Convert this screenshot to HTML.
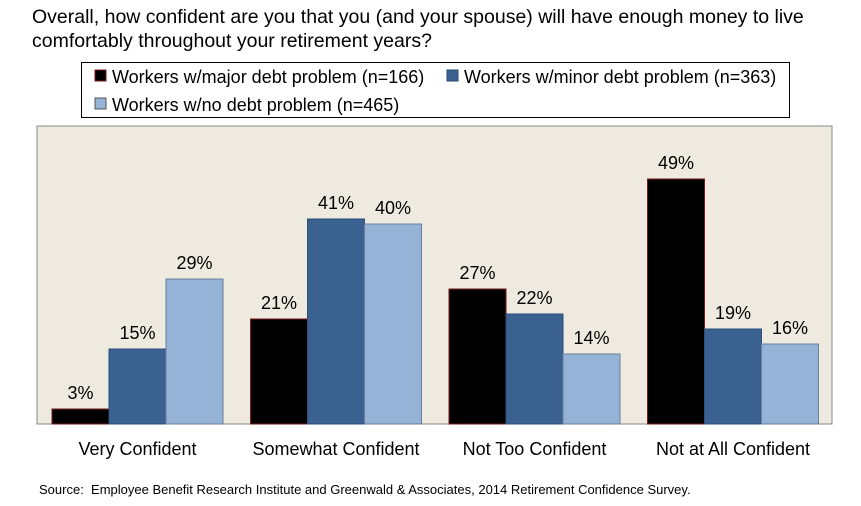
<!DOCTYPE html>
<html><head><meta charset="utf-8"><style>
body{margin:0;background:#fff;font-family:"Liberation Sans",sans-serif;}
#wrap{position:relative;width:861px;height:506px;overflow:hidden;}
.t{position:absolute;color:#000;white-space:nowrap;}
</style></head><body>
<div id="wrap">
<div class="t" style="left:32px;top:5px;font-size:19.5px;line-height:24px;">Overall, how confident are you that you (and your spouse) will have enough money to live<br>comfortably throughout your retirement years?</div>
<svg id="svg" width="861" height="506" style="position:absolute;left:0;top:0">
<g>
<rect x="81.5" y="62.5" width="708" height="55" fill="#fff" stroke="#000"/>
<rect x="95" y="70" width="11" height="11" fill="#000" stroke="#7a1a1a"/>
<text x="112" y="83" font-size="18">Workers w/major debt problem (n=166)</text>
<rect x="447" y="70" width="11" height="11" fill="#3a6190" stroke="#2a4870"/>
<text x="464" y="83" font-size="18">Workers w/minor debt problem (n=363)</text>
<rect x="95" y="98" width="11" height="11" fill="#95b3d7" stroke="#555"/>
<text x="112" y="111" font-size="18">Workers w/no debt problem (n=465)</text>
</g>
<rect x="37" y="126" width="795" height="298" fill="#eeeae0" stroke="#888"/>
<g id="bars"></g>
</svg>
<div class="t" style="left:39px;top:482px;font-size:13px;">Source:&nbsp; Employee Benefit Research Institute and Greenwald &amp; Associates, 2014 Retirement Confidence Survey.</div>
</div>
<script>
const categories=["Very Confident","Somewhat Confident","Not Too Confident","Not at All Confident"];
const majorDebt=[3,21,27,49];
const minorDebt=[15,41,22,19];
const noDebt=[29,40,14,16];
const series=[majorDebt,minorDebt,noDebt];
const seriesNames=["major","minor","none"];
const fills=["#000000","#3a6190","#95b3d7"];
const strokes=["#7a1a1a","#2f507a","#6b7f99"];
const ns="http://www.w3.org/2000/svg";
const g=document.getElementById('bars');
const base=424, pxPer=5, left=37, band=198.5, off=15, bw=57;
function y(v){return base-v*pxPer;}
function x(ci,si){return left+ci*band+off+si*bw;}
categories.forEach((c,ci)=>{
  series.forEach((s,si)=>{
    const r=document.createElementNS(ns,'rect');
    r.setAttribute('x',x(ci,si));r.setAttribute('y',y(s[ci]));
    r.setAttribute('width',bw);r.setAttribute('height',base-y(s[ci]));
    r.setAttribute('fill',fills[si]);r.setAttribute('stroke',strokes[si]);r.setAttribute('stroke-width','1');
    
    
    g.appendChild(r);
    const t=document.createElementNS(ns,'text');
    t.setAttribute('x',x(ci,si)+bw/2);t.setAttribute('y',y(s[ci])-10);
    t.setAttribute('text-anchor','middle');t.setAttribute('font-size','18');
    t.textContent=s[ci]+'%';
    
    
    g.appendChild(t);
  });
  const l=document.createElementNS(ns,'text');
  l.setAttribute('x',left+ci*band+off+1.5*bw);l.setAttribute('y',455);
  l.setAttribute('text-anchor','middle');l.setAttribute('font-size','18');
  l.textContent=c;
  
  
  g.appendChild(l);
});
</script>
</body></html>
